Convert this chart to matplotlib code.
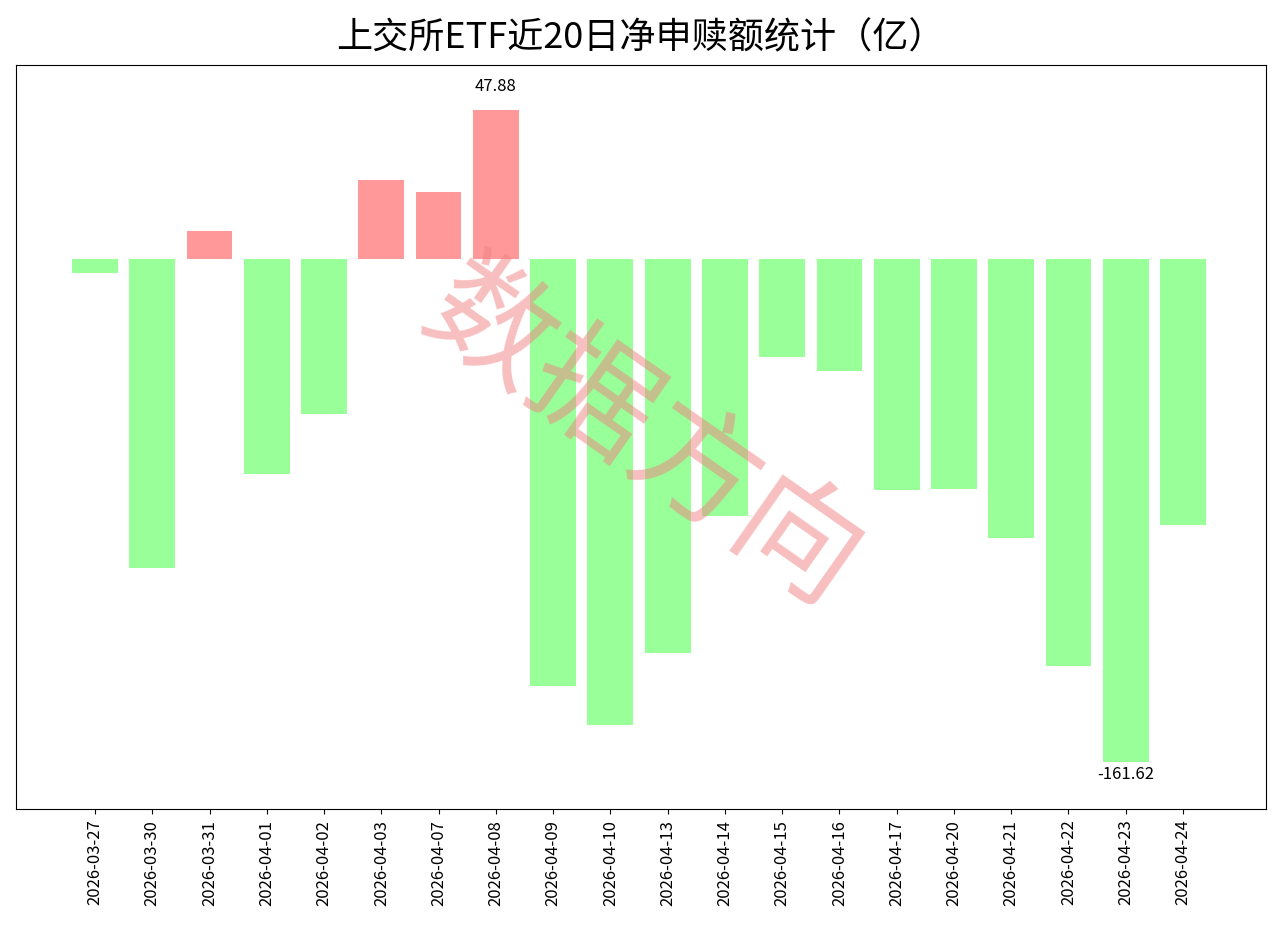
import matplotlib
matplotlib.use("Agg")
import matplotlib.pyplot as plt

plt.rcParams['font.family'] = ['Noto Sans CJK SC', 'DejaVu Sans']

dates = ["2026-03-27","2026-03-30","2026-03-31","2026-04-01","2026-04-02","2026-04-03",
         "2026-04-07","2026-04-08","2026-04-09","2026-04-10","2026-04-13","2026-04-14",
         "2026-04-15","2026-04-16","2026-04-17","2026-04-20","2026-04-21","2026-04-22",
         "2026-04-23","2026-04-24"]
values = [-4.5, -99.3, 9.0, -69.1, -49.8, 25.4, 21.5, 47.88, -137.2, -149.7, -126.6, -82.6,
          -31.5, -36.0, -74.2, -73.9, -89.7, -130.8, -161.62, -85.5]

fig = plt.figure(figsize=(12.8, 9.53), dpi=100)
ax = fig.add_axes([16/1280, 1-810/953, 1250/1280, 744/953])
x = list(range(len(dates)))
colors = ['#ff9999' if v > 0 else '#99ff99' for v in values]
ax.bar(x, values, width=0.8, color=colors)
ax.set_xlim(-1.38, 20.45)
ax.set_ylim(-176.7, 62.3)
ax.set_yticks([])
ax.set_xticks(x)
ax.set_xticklabels(dates, rotation=90, fontsize=12)
imax = values.index(max(values)); imin = values.index(min(values))
ax.text(imax, values[imax] + 5, f"{values[imax]:.2f}", ha='center', va='bottom', fontsize=12)
ax.text(imin, values[imin] - 1, f"{values[imin]:.2f}", ha='center', va='top', fontsize=12)
fig.text(0.5, 1-38/953, "上交所ETF近20日净申赎额统计（亿）", ha='center', va='center', fontsize=26)
ax.text(0.5, 0.5, "数据方向", transform=ax.transAxes, rotation=-35, fontsize=90,
        color='#f08080', alpha=0.5, ha='center', va='center')
fig.savefig("out.png", dpi=100)
